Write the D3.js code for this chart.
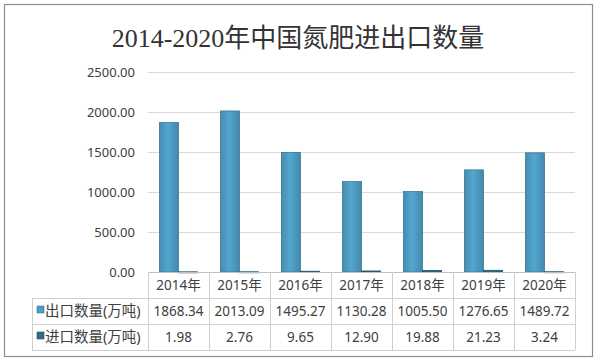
<!DOCTYPE html>
<html>
<head>
<meta charset="utf-8">
<script src="https://cdn.jsdelivr.net/npm/d3@7"></script>
<style>
  body { margin: 0; background: #fff; }
  svg { display: block; }
</style>
</head>
<body>
<script>
//chart data
var years = ["2014年", "2015年", "2016年", "2017年", "2018年", "2019年", "2020年"];
var exportVals = [1868.34, 2013.09, 1495.27, 1130.28, 1005.50, 1276.65, 1489.72];
var importVals = [1.98, 2.76, 9.65, 12.90, 19.88, 21.23, 3.24];
var seriesNames = ["出口数量(万吨)", "进口数量(万吨)"];
var yTicks = [0, 500, 1000, 1500, 2000, 2500];

var width = 599, height = 362;
var colors = ["#4f9dc6", "#2f6c88"];
var strokes = ["#3b7895", "#24546a"];

var svg = d3.select("body").append("svg")
    .attr("width", width)
    .attr("height", height);

//gradient for bars
var defs = svg.append("defs");
colors.forEach(function(c, i){
    var g = defs.append("linearGradient")
        .attr("id", "grad" + i)
        .attr("x1", "0").attr("x2", "1").attr("y1", "0").attr("y2", "0");
    g.append("stop").attr("offset", "0%").attr("stop-color", d3.color(c).darker(0.3));
    g.append("stop").attr("offset", "45%").attr("stop-color", d3.color(c).brighter(0.15));
    g.append("stop").attr("offset", "100%").attr("stop-color", d3.color(c).darker(0.4));
});

//outer frame
svg.append("rect")
    .attr("x", 4.5).attr("y", 4.5)
    .attr("width", 588).attr("height", 352)
    .attr("fill", "#fff")
    .attr("stroke", "#8c8c8c")
    .attr("stroke-width", 1.2);

//title
svg.append("text")
    .attr("x", 298).attr("y", 47)
    .attr("text-anchor", "middle")
    .style("font-family", "'Liberation Serif', 'Noto Sans CJK SC', serif")
    .style("font-size", "26px")
    .style("fill", "#333")
    .text("2014-2020年中国氮肥进出口数量");

//scales
var plotLeft = 148, plotRight = 575, plotTop = 72, plotBottom = 272;
var x = d3.scaleBand().domain(years).range([plotLeft, plotRight]);
var x1 = d3.scaleBand().domain([0, 1]).range([0, x.bandwidth()]).paddingInner(0).paddingOuter(0.6);
var y = d3.scaleLinear().domain([0, 2500]).range([plotBottom, plotTop]);

//gridlines
svg.append("g").selectAll("line")
    .data(yTicks.slice(1))
    .enter().append("line")
    .attr("x1", plotLeft).attr("x2", plotRight)
    .attr("y1", function(d){ return y(d) + 0.5; })
    .attr("y2", function(d){ return y(d) + 0.5; })
    .attr("stroke", "#d9d9d9");

//y axis labels
var yAxis = svg.append("g")
    .attr("transform", "translate(" + (plotLeft - 10) + ",0)")
    .call(d3.axisLeft(y).tickValues(yTicks).tickSize(0).tickFormat(d3.format(".2f")));
yAxis.select(".domain").remove();
yAxis.selectAll("text")
    .attr("x", -3)
    .style("font-family", "'Noto Sans', sans-serif")
    .style("font-size", "13px")
    .style("fill", "#404040");

//bars
var allSeries = [exportVals, importVals];
allSeries.forEach(function(vals, s){
    svg.append("g").selectAll("rect")
        .data(vals)
        .enter().append("rect")
        .attr("x", function(d, i){ return x(years[i]) + x1(s); })
        .attr("y", function(d){ return y(d); })
        .attr("width", x1.bandwidth())
        .attr("height", function(d){ return Math.max(1, y(0) - y(d)); })
        .attr("fill", "url(#grad" + s + ")")
        .attr("stroke", strokes[s])
        .attr("stroke-width", 0.8);
});

//data table
var rowH = 26, legendLeft = 32;
var tableColor = "#cfcfcf";
var table = svg.append("g");

//horizontal lines
table.append("line")
    .attr("x1", plotLeft).attr("x2", plotRight)
    .attr("y1", plotBottom + 0.5).attr("y2", plotBottom + 0.5)
    .attr("stroke", "#bfbfbf");
[1, 2, 3].forEach(function(r){
    table.append("line")
        .attr("x1", legendLeft).attr("x2", plotRight)
        .attr("y1", plotBottom + r * rowH + 0.5).attr("y2", plotBottom + r * rowH + 0.5)
        .attr("stroke", tableColor);
});
//vertical lines
table.append("line")
    .attr("x1", legendLeft + 0.5).attr("x2", legendLeft + 0.5)
    .attr("y1", plotBottom + rowH).attr("y2", plotBottom + 3 * rowH)
    .attr("stroke", tableColor);
table.selectAll(".vline")
    .data(years.concat(["end"]))
    .enter().append("line")
    .attr("class", "vline")
    .attr("x1", function(d, i){ return plotLeft + i * x.bandwidth() + 0.5; })
    .attr("x2", function(d, i){ return plotLeft + i * x.bandwidth() + 0.5; })
    .attr("y1", plotBottom).attr("y2", plotBottom + 3 * rowH)
    .attr("stroke", tableColor);

var cellFont = "'Noto Sans', 'Noto Sans CJK SC', sans-serif";

//year row
table.selectAll(".yearLabel")
    .data(years)
    .enter().append("text")
    .attr("class", "yearLabel")
    .attr("x", function(d){ return x(d) + x.bandwidth() / 2; })
    .attr("y", plotBottom + rowH / 2 + 5)
    .attr("text-anchor", "middle")
    .style("font-family", cellFont)
    .style("font-size", "13.5px")
    .style("fill", "#404040")
    .text(function(d){ return d; });

//value rows
allSeries.forEach(function(vals, s){
    var rowY = plotBottom + (s + 1) * rowH + rowH / 2 + 5;
    table.append("g").selectAll("text")
        .data(vals)
        .enter().append("text")
        .attr("x", function(d, i){ return x(years[i]) + x.bandwidth() / 2; })
        .attr("y", rowY)
        .attr("text-anchor", "middle")
        .style("font-family", cellFont)
        .style("font-size", "13.5px")
        .style("fill", "#404040")
        .text(function(d){ return d3.format(".2f")(d); });

    //legend key and name
    table.append("rect")
        .attr("x", legendLeft + 5).attr("y", rowY - 10)
        .attr("width", 7).attr("height", 7)
        .attr("fill", colors[s])
        .attr("stroke", strokes[s])
        .attr("stroke-width", 0.6);
    table.append("text")
        .attr("x", legendLeft + 13).attr("y", rowY)
        .style("font-family", cellFont)
        .style("font-size", "14.5px")
        .style("fill", "#404040")
        .text(seriesNames[s]);
});
</script>
</body>
</html>
